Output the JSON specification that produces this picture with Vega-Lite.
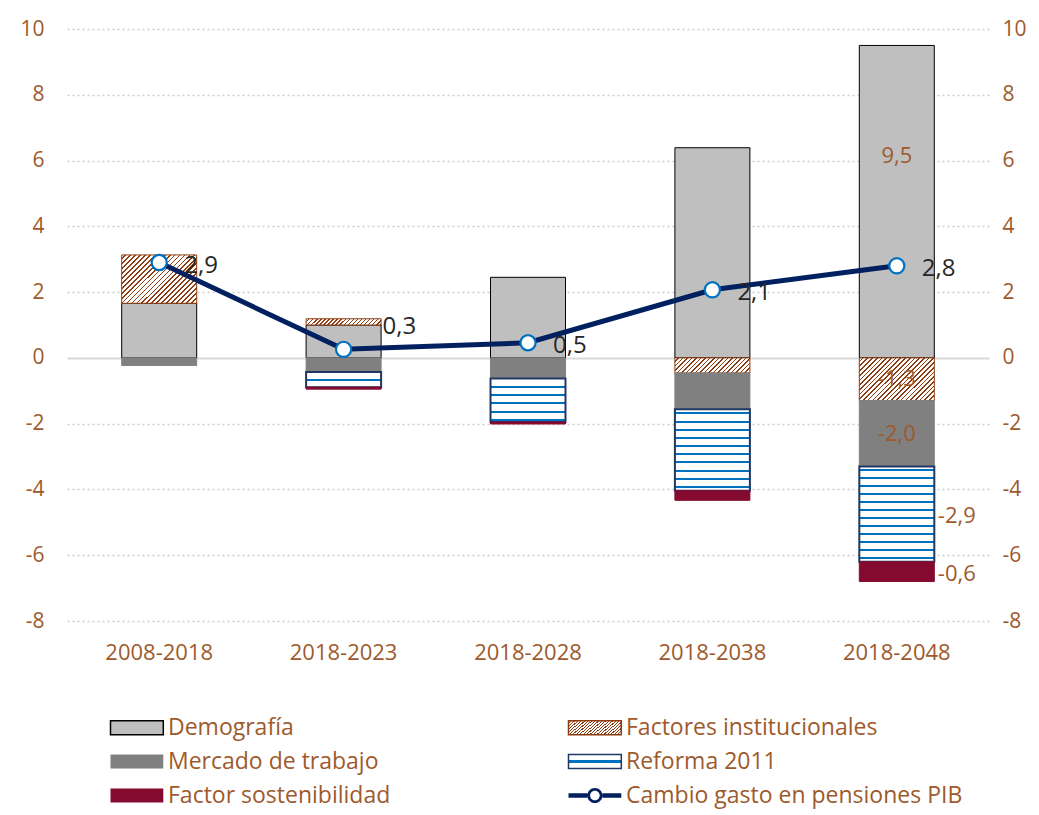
{
  "$schema": "https://vega.github.io/schema/vega-lite/v6.json",
  "autosize": "none",
  "padding": {"left": 67, "top": 29, "right": 50, "bottom": 194},
  "width": 922,
  "height": 592,
  "config": {
    "font": "Open Sans",
    "view": {"stroke": null},
    "locale": {"number": {"decimal": ",", "thousands": ".", "grouping": [3], "currency": ["", " €"], "minus": "-"}}
  },
  "params": [
    {"name": "h25", "value": [
      {"offset":0,"color":"#fff"},{"offset":0.026,"color":"#fff"},{"offset":0.026,"color":"#8e3c10"},{"offset":0.04,"color":"#8e3c10"},
      {"offset":0.04,"color":"#fff"},{"offset":0.066,"color":"#fff"},{"offset":0.066,"color":"#8e3c10"},{"offset":0.08,"color":"#8e3c10"},
      {"offset":0.08,"color":"#fff"},{"offset":0.106,"color":"#fff"},{"offset":0.106,"color":"#8e3c10"},{"offset":0.12,"color":"#8e3c10"},
      {"offset":0.12,"color":"#fff"},{"offset":0.146,"color":"#fff"},{"offset":0.146,"color":"#8e3c10"},{"offset":0.16,"color":"#8e3c10"},
      {"offset":0.16,"color":"#fff"},{"offset":0.186,"color":"#fff"},{"offset":0.186,"color":"#8e3c10"},{"offset":0.2,"color":"#8e3c10"},
      {"offset":0.2,"color":"#fff"},{"offset":0.226,"color":"#fff"},{"offset":0.226,"color":"#8e3c10"},{"offset":0.24,"color":"#8e3c10"},
      {"offset":0.24,"color":"#fff"},{"offset":0.266,"color":"#fff"},{"offset":0.266,"color":"#8e3c10"},{"offset":0.28,"color":"#8e3c10"},
      {"offset":0.28,"color":"#fff"},{"offset":0.306,"color":"#fff"},{"offset":0.306,"color":"#8e3c10"},{"offset":0.32,"color":"#8e3c10"},
      {"offset":0.32,"color":"#fff"},{"offset":0.346,"color":"#fff"},{"offset":0.346,"color":"#8e3c10"},{"offset":0.36,"color":"#8e3c10"},
      {"offset":0.36,"color":"#fff"},{"offset":0.386,"color":"#fff"},{"offset":0.386,"color":"#8e3c10"},{"offset":0.4,"color":"#8e3c10"},
      {"offset":0.4,"color":"#fff"},{"offset":0.426,"color":"#fff"},{"offset":0.426,"color":"#8e3c10"},{"offset":0.44,"color":"#8e3c10"},
      {"offset":0.44,"color":"#fff"},{"offset":0.466,"color":"#fff"},{"offset":0.466,"color":"#8e3c10"},{"offset":0.48,"color":"#8e3c10"},
      {"offset":0.48,"color":"#fff"},{"offset":0.506,"color":"#fff"},{"offset":0.506,"color":"#8e3c10"},{"offset":0.52,"color":"#8e3c10"},
      {"offset":0.52,"color":"#fff"},{"offset":0.546,"color":"#fff"},{"offset":0.546,"color":"#8e3c10"},{"offset":0.56,"color":"#8e3c10"},
      {"offset":0.56,"color":"#fff"},{"offset":0.586,"color":"#fff"},{"offset":0.586,"color":"#8e3c10"},{"offset":0.6,"color":"#8e3c10"},
      {"offset":0.6,"color":"#fff"},{"offset":0.626,"color":"#fff"},{"offset":0.626,"color":"#8e3c10"},{"offset":0.64,"color":"#8e3c10"},
      {"offset":0.64,"color":"#fff"},{"offset":0.666,"color":"#fff"},{"offset":0.666,"color":"#8e3c10"},{"offset":0.68,"color":"#8e3c10"},
      {"offset":0.68,"color":"#fff"},{"offset":0.706,"color":"#fff"},{"offset":0.706,"color":"#8e3c10"},{"offset":0.72,"color":"#8e3c10"},
      {"offset":0.72,"color":"#fff"},{"offset":0.746,"color":"#fff"},{"offset":0.746,"color":"#8e3c10"},{"offset":0.76,"color":"#8e3c10"},
      {"offset":0.76,"color":"#fff"},{"offset":0.786,"color":"#fff"},{"offset":0.786,"color":"#8e3c10"},{"offset":0.8,"color":"#8e3c10"},
      {"offset":0.8,"color":"#fff"},{"offset":0.826,"color":"#fff"},{"offset":0.826,"color":"#8e3c10"},{"offset":0.84,"color":"#8e3c10"},
      {"offset":0.84,"color":"#fff"},{"offset":0.866,"color":"#fff"},{"offset":0.866,"color":"#8e3c10"},{"offset":0.88,"color":"#8e3c10"},
      {"offset":0.88,"color":"#fff"},{"offset":0.906,"color":"#fff"},{"offset":0.906,"color":"#8e3c10"},{"offset":0.92,"color":"#8e3c10"},
      {"offset":0.92,"color":"#fff"},{"offset":0.946,"color":"#fff"},{"offset":0.946,"color":"#8e3c10"},{"offset":0.96,"color":"#8e3c10"},
      {"offset":0.96,"color":"#fff"},{"offset":0.986,"color":"#fff"},{"offset":0.986,"color":"#8e3c10"},{"offset":1,"color":"#8e3c10"}
    ]},
    {"name": "h20", "value": [
      {"offset":0,"color":"#fff"},{"offset":0.032,"color":"#fff"},{"offset":0.032,"color":"#8e3c10"},{"offset":0.05,"color":"#8e3c10"},
      {"offset":0.05,"color":"#fff"},{"offset":0.082,"color":"#fff"},{"offset":0.082,"color":"#8e3c10"},{"offset":0.1,"color":"#8e3c10"},
      {"offset":0.1,"color":"#fff"},{"offset":0.132,"color":"#fff"},{"offset":0.132,"color":"#8e3c10"},{"offset":0.15,"color":"#8e3c10"},
      {"offset":0.15,"color":"#fff"},{"offset":0.182,"color":"#fff"},{"offset":0.182,"color":"#8e3c10"},{"offset":0.2,"color":"#8e3c10"},
      {"offset":0.2,"color":"#fff"},{"offset":0.232,"color":"#fff"},{"offset":0.232,"color":"#8e3c10"},{"offset":0.25,"color":"#8e3c10"},
      {"offset":0.25,"color":"#fff"},{"offset":0.282,"color":"#fff"},{"offset":0.282,"color":"#8e3c10"},{"offset":0.3,"color":"#8e3c10"},
      {"offset":0.3,"color":"#fff"},{"offset":0.332,"color":"#fff"},{"offset":0.332,"color":"#8e3c10"},{"offset":0.35,"color":"#8e3c10"},
      {"offset":0.35,"color":"#fff"},{"offset":0.382,"color":"#fff"},{"offset":0.382,"color":"#8e3c10"},{"offset":0.4,"color":"#8e3c10"},
      {"offset":0.4,"color":"#fff"},{"offset":0.432,"color":"#fff"},{"offset":0.432,"color":"#8e3c10"},{"offset":0.45,"color":"#8e3c10"},
      {"offset":0.45,"color":"#fff"},{"offset":0.482,"color":"#fff"},{"offset":0.482,"color":"#8e3c10"},{"offset":0.5,"color":"#8e3c10"},
      {"offset":0.5,"color":"#fff"},{"offset":0.532,"color":"#fff"},{"offset":0.532,"color":"#8e3c10"},{"offset":0.55,"color":"#8e3c10"},
      {"offset":0.55,"color":"#fff"},{"offset":0.582,"color":"#fff"},{"offset":0.582,"color":"#8e3c10"},{"offset":0.6,"color":"#8e3c10"},
      {"offset":0.6,"color":"#fff"},{"offset":0.632,"color":"#fff"},{"offset":0.632,"color":"#8e3c10"},{"offset":0.65,"color":"#8e3c10"},
      {"offset":0.65,"color":"#fff"},{"offset":0.682,"color":"#fff"},{"offset":0.682,"color":"#8e3c10"},{"offset":0.7,"color":"#8e3c10"},
      {"offset":0.7,"color":"#fff"},{"offset":0.732,"color":"#fff"},{"offset":0.732,"color":"#8e3c10"},{"offset":0.75,"color":"#8e3c10"},
      {"offset":0.75,"color":"#fff"},{"offset":0.782,"color":"#fff"},{"offset":0.782,"color":"#8e3c10"},{"offset":0.8,"color":"#8e3c10"},
      {"offset":0.8,"color":"#fff"},{"offset":0.832,"color":"#fff"},{"offset":0.832,"color":"#8e3c10"},{"offset":0.85,"color":"#8e3c10"},
      {"offset":0.85,"color":"#fff"},{"offset":0.882,"color":"#fff"},{"offset":0.882,"color":"#8e3c10"},{"offset":0.9,"color":"#8e3c10"},
      {"offset":0.9,"color":"#fff"},{"offset":0.932,"color":"#fff"},{"offset":0.932,"color":"#8e3c10"},{"offset":0.95,"color":"#8e3c10"},
      {"offset":0.95,"color":"#fff"},{"offset":0.982,"color":"#fff"},{"offset":0.982,"color":"#8e3c10"},{"offset":1,"color":"#8e3c10"}
    ]}
  ],
  "datasets": {
    "bars": [
      {"period": "2008-2018", "comp": "Demografía", "orden": 1, "value": 1.66},
      {"period": "2008-2018", "comp": "Factores institucionales", "orden": 2, "value": 1.47},
      {"period": "2008-2018", "comp": "Mercado de trabajo", "orden": 3, "value": -0.23},
      {"period": "2018-2023", "comp": "Demografía", "orden": 1, "value": 1.0},
      {"period": "2018-2023", "comp": "Factores institucionales", "orden": 2, "value": 0.19},
      {"period": "2018-2023", "comp": "Mercado de trabajo", "orden": 3, "value": -0.43},
      {"period": "2018-2023", "comp": "Reforma 2011", "orden": 4, "value": -0.46},
      {"period": "2018-2023", "comp": "Factor sostenibilidad", "orden": 5, "value": -0.06},
      {"period": "2018-2028", "comp": "Demografía", "orden": 1, "value": 2.45},
      {"period": "2018-2028", "comp": "Mercado de trabajo", "orden": 3, "value": -0.63},
      {"period": "2018-2028", "comp": "Reforma 2011", "orden": 4, "value": -1.32},
      {"period": "2018-2028", "comp": "Factor sostenibilidad", "orden": 5, "value": -0.06},
      {"period": "2018-2038", "comp": "Demografía", "orden": 1, "value": 6.39},
      {"period": "2018-2038", "comp": "Factores institucionales", "orden": 2, "value": -0.46},
      {"period": "2018-2038", "comp": "Mercado de trabajo", "orden": 3, "value": -1.1},
      {"period": "2018-2038", "comp": "Reforma 2011", "orden": 4, "value": -2.48},
      {"period": "2018-2038", "comp": "Factor sostenibilidad", "orden": 5, "value": -0.29},
      {"period": "2018-2048", "comp": "Demografía", "orden": 1, "value": 9.5},
      {"period": "2018-2048", "comp": "Factores institucionales", "orden": 2, "value": -1.3},
      {"period": "2018-2048", "comp": "Mercado de trabajo", "orden": 3, "value": -2.0},
      {"period": "2018-2048", "comp": "Reforma 2011", "orden": 4, "value": -2.9},
      {"period": "2018-2048", "comp": "Factor sostenibilidad", "orden": 5, "value": -0.6}
    ],
    "line": [
      {"period": "2008-2018", "value": 2.9},
      {"period": "2018-2023", "value": 0.26},
      {"period": "2018-2028", "value": 0.46},
      {"period": "2018-2038", "value": 2.07},
      {"period": "2018-2048", "value": 2.8}
    ]
  },
  "layer": [
    {
      "data": {"name": "bars"},
      "transform": [{"stack": "value", "groupby": ["period"], "sort": [{"field": "orden", "order": "ascending"}], "as": ["v0", "v1"]}],
      "mark": {"type": "bar", "width": 75},
      "encoding": {
        "x": {"field": "period", "type": "nominal", "sort": null,
          "scale": {"domain": ["2008-2018", "2018-2023", "2018-2028", "2018-2038", "2018-2048"]},
          "axis": {"title": null, "domain": false, "ticks": false, "grid": false, "labelAngle": 0, "labelPadding": 21, "labelFontSize": 22, "labelColor": "#9e5a2c"}},
        "y": {"field": "v0", "type": "quantitative",
          "scale": {"domain": [-8, 10], "nice": false, "zero": false},
          "axis": {"orient": "left", "title": null, "values": [-8, -6, -4, -2, 0, 2, 4, 6, 8, 10], "format": "d",
            "domain": false, "ticks": false, "labelPadding": 23, "labelFontSize": 21, "labelColor": "#9e5a2c",
            "grid": true,
            "gridColor": {"condition": {"test": "datum.value === 0", "value": "#d9d9d9"}, "value": "#cccccc"},
            "gridDash": {"condition": {"test": "datum.value === 0", "value": []}, "value": [2, 3]},
            "gridWidth": {"condition": {"test": "datum.value === 0", "value": 2}, "value": 1.5}}},
        "y2": {"field": "v1"},
        "fill": {
          "field": "comp", "type": "nominal",
          "scale": {
            "domain": ["Demografía", "Mercado de trabajo", "Factor sostenibilidad", "Factores institucionales", "Reforma 2011", "Cambio gasto en pensiones PIB"],
            "range": ["#bfbfbf", "#808080", "#840b2f",
              {"expr": "{gradient:'linear',x1:0,y1:0,x2:1.195,y2:0.368,stops:h20}"},
              {"expr": "{gradient:'linear',x1:0,y1:0,x2:0,y2:1,stops:[{offset:0,color:'#fff'},{offset:0.38,color:'#fff'},{offset:0.38,color:'#0070c0'},{offset:0.62,color:'#0070c0'},{offset:0.62,color:'#fff'},{offset:1,color:'#fff'}]}"},
              "#002060"]
          },
          "legend": {
            "title": null, "orient": "none", "legendX": 40, "legendY": 687, "columns": 2,
            "columnPadding": 174, "rowPadding": 10, "labelFontSize": 23, "labelColor": "#9e5a2c",
            "labelOffset": 38, "labelLimit": 600, "symbolSize": 256, "symbolType": "M-1,-0.875H5.6V0.875H-1Z",
            "encode": {"symbols": {"update": {
              "stroke": {"signal": "datum.value==='Demografía' ? '#000000' : datum.value==='Factores institucionales' ? '#8e3c10' : datum.value==='Reforma 2011' ? '#1f3864' : 'transparent'"},
              "strokeWidth": {"value": 1.5},
              "opacity": {"value": 1},
              "shape": {"signal": "datum.value==='Cambio gasto en pensiones PIB' ? 'M-1,-0.28H1.35V0.28H-1Z M3.25,-0.28H5.6V0.28H3.25Z M3.25,0A0.95,0.95 0 1,1 1.35,0A0.95,0.95 0 1,1 3.25,0Z M2.9,0A0.6,0.6 0 1,0 1.7,0A0.6,0.6 0 1,0 2.9,0Z' : 'M-1,-0.875H5.6V0.875H-1Z'"}
            }}}
          },
          "condition": [
            {"test": "datum.comp==='Factores institucionales' && datum.period==='2008-2018'", "value": {"expr": "{gradient:'linear',x1:0,y1:0,x2:1.162,y2:0.75,stops:h25}"}},
            {"test": "datum.comp==='Factores institucionales' && datum.period==='2018-2048'", "value": {"expr": "{gradient:'linear',x1:0,y1:0,x2:1.185,y2:0.677,stops:h25}"}},
            {"test": "datum.comp==='Factores institucionales' && datum.period==='2018-2038'", "value": {"expr": "{gradient:'linear',x1:0,y1:0,x2:1.154,y2:0.232,stops:h20}"}},
            {"test": "datum.comp==='Factores institucionales' && datum.period==='2018-2023'", "value": {"expr": "{gradient:'linear',x1:0,y1:0,x2:1.076,y2:0.0905,stops:h20}"}},
            {"test": "datum.comp==='Reforma 2011' && datum.period==='2018-2023'", "value": {"gradient": "linear", "x1": 0, "y1": 0, "x2": 0, "y2": 1, "stops": [
              {"offset":0,"color":"#fff"},{"offset":0.44,"color":"#fff"},{"offset":0.44,"color":"#0070c0"},{"offset":0.57,"color":"#0070c0"},{"offset":0.57,"color":"#fff"},{"offset":1,"color":"#fff"}]}},
            {"test": "datum.comp==='Reforma 2011' && datum.period==='2018-2028'", "value": {"gradient": "linear", "x1": 0, "y1": 0, "x2": 0, "y2": 1, "stops": [
              {"offset":0,"color":"#fff"},{"offset":0.17,"color":"#fff"},{"offset":0.17,"color":"#0070c0"},{"offset":0.216,"color":"#0070c0"},
              {"offset":0.216,"color":"#fff"},{"offset":0.36,"color":"#fff"},{"offset":0.36,"color":"#0070c0"},{"offset":0.406,"color":"#0070c0"},
              {"offset":0.406,"color":"#fff"},{"offset":0.55,"color":"#fff"},{"offset":0.55,"color":"#0070c0"},{"offset":0.596,"color":"#0070c0"},
              {"offset":0.596,"color":"#fff"},{"offset":0.74,"color":"#fff"},{"offset":0.74,"color":"#0070c0"},{"offset":0.786,"color":"#0070c0"},
              {"offset":0.786,"color":"#fff"},{"offset":0.93,"color":"#fff"},{"offset":0.93,"color":"#0070c0"},{"offset":0.976,"color":"#0070c0"},
              {"offset":0.976,"color":"#fff"},{"offset":1,"color":"#fff"}]}},
            {"test": "datum.comp==='Reforma 2011' && datum.period==='2018-2038'", "value": {"gradient": "linear", "x1": 0, "y1": 0, "x2": 0, "y2": 1, "stops": [
              {"offset":0,"color":"#fff"},{"offset":0.04,"color":"#fff"},{"offset":0.04,"color":"#0070c0"},{"offset":0.065,"color":"#0070c0"},
              {"offset":0.065,"color":"#fff"},{"offset":0.14,"color":"#fff"},{"offset":0.14,"color":"#0070c0"},{"offset":0.165,"color":"#0070c0"},
              {"offset":0.165,"color":"#fff"},{"offset":0.24,"color":"#fff"},{"offset":0.24,"color":"#0070c0"},{"offset":0.265,"color":"#0070c0"},
              {"offset":0.265,"color":"#fff"},{"offset":0.34,"color":"#fff"},{"offset":0.34,"color":"#0070c0"},{"offset":0.365,"color":"#0070c0"},
              {"offset":0.365,"color":"#fff"},{"offset":0.44,"color":"#fff"},{"offset":0.44,"color":"#0070c0"},{"offset":0.465,"color":"#0070c0"},
              {"offset":0.465,"color":"#fff"},{"offset":0.54,"color":"#fff"},{"offset":0.54,"color":"#0070c0"},{"offset":0.565,"color":"#0070c0"},
              {"offset":0.565,"color":"#fff"},{"offset":0.64,"color":"#fff"},{"offset":0.64,"color":"#0070c0"},{"offset":0.665,"color":"#0070c0"},
              {"offset":0.665,"color":"#fff"},{"offset":0.74,"color":"#fff"},{"offset":0.74,"color":"#0070c0"},{"offset":0.765,"color":"#0070c0"},
              {"offset":0.765,"color":"#fff"},{"offset":0.84,"color":"#fff"},{"offset":0.84,"color":"#0070c0"},{"offset":0.865,"color":"#0070c0"},
              {"offset":0.865,"color":"#fff"},{"offset":0.94,"color":"#fff"},{"offset":0.94,"color":"#0070c0"},{"offset":0.965,"color":"#0070c0"},
              {"offset":0.965,"color":"#fff"},{"offset":1,"color":"#fff"}]}},
            {"test": "datum.comp==='Reforma 2011' && datum.period==='2018-2048'", "value": {"gradient": "linear", "x1": 0, "y1": 0, "x2": 0, "y2": 1, "stops": [
              {"offset":0,"color":"#fff"},{"offset":0.03,"color":"#fff"},{"offset":0.03,"color":"#0070c0"},{"offset":0.052,"color":"#0070c0"},
              {"offset":0.052,"color":"#fff"},{"offset":0.113,"color":"#fff"},{"offset":0.113,"color":"#0070c0"},{"offset":0.135,"color":"#0070c0"},
              {"offset":0.135,"color":"#fff"},{"offset":0.197,"color":"#fff"},{"offset":0.197,"color":"#0070c0"},{"offset":0.219,"color":"#0070c0"},
              {"offset":0.219,"color":"#fff"},{"offset":0.28,"color":"#fff"},{"offset":0.28,"color":"#0070c0"},{"offset":0.302,"color":"#0070c0"},
              {"offset":0.302,"color":"#fff"},{"offset":0.363,"color":"#fff"},{"offset":0.363,"color":"#0070c0"},{"offset":0.385,"color":"#0070c0"},
              {"offset":0.385,"color":"#fff"},{"offset":0.447,"color":"#fff"},{"offset":0.447,"color":"#0070c0"},{"offset":0.469,"color":"#0070c0"},
              {"offset":0.469,"color":"#fff"},{"offset":0.53,"color":"#fff"},{"offset":0.53,"color":"#0070c0"},{"offset":0.552,"color":"#0070c0"},
              {"offset":0.552,"color":"#fff"},{"offset":0.613,"color":"#fff"},{"offset":0.613,"color":"#0070c0"},{"offset":0.635,"color":"#0070c0"},
              {"offset":0.635,"color":"#fff"},{"offset":0.697,"color":"#fff"},{"offset":0.697,"color":"#0070c0"},{"offset":0.719,"color":"#0070c0"},
              {"offset":0.719,"color":"#fff"},{"offset":0.78,"color":"#fff"},{"offset":0.78,"color":"#0070c0"},{"offset":0.802,"color":"#0070c0"},
              {"offset":0.802,"color":"#fff"},{"offset":0.863,"color":"#fff"},{"offset":0.863,"color":"#0070c0"},{"offset":0.885,"color":"#0070c0"},
              {"offset":0.885,"color":"#fff"},{"offset":0.947,"color":"#fff"},{"offset":0.947,"color":"#0070c0"},{"offset":0.969,"color":"#0070c0"},
              {"offset":0.969,"color":"#fff"},{"offset":1,"color":"#fff"}]}}
          ]
        },
        "stroke": {"field": "comp", "type": "nominal", "legend": null,
          "scale": {"domain": ["Demografía", "Factores institucionales", "Mercado de trabajo", "Reforma 2011", "Factor sostenibilidad"],
            "range": ["#000000", "#8e3c10", "#808080", "#1f3864", "#840b2f"]}},
        "strokeWidth": {"condition": {"test": "datum.comp==='Reforma 2011'", "value": 2}, "value": 1}
      }
    },
    {
      "data": {"name": "line"},
      "mark": {"type": "line", "color": "#002060", "strokeWidth": 5},
      "encoding": {
        "x": {"field": "period", "type": "nominal", "sort": null, "scale": {"domain": ["2008-2018", "2018-2023", "2018-2028", "2018-2038", "2018-2048"]},
          "axis": {"title": null, "domain": false, "ticks": false, "grid": false, "labelAngle": 0, "labelPadding": 21, "labelFontSize": 22, "labelColor": "#9e5a2c"}},
        "y": {"field": "value", "type": "quantitative", "scale": {"domain": [-8, 10], "nice": false, "zero": false},
          "axis": {"orient": "right", "title": null, "values": [-8, -6, -4, -2, 0, 2, 4, 6, 8, 10], "format": "d",
            "domain": false, "ticks": false, "grid": false, "labelPadding": 13, "labelFontSize": 21, "labelColor": "#9e5a2c"}}
      }
    },
    {
      "data": {"name": "line"},
      "mark": {"type": "point", "filled": true, "fill": "#ffffff", "stroke": "#0070c0", "strokeWidth": 2.2, "size": 230, "opacity": 1},
      "encoding": {
        "x": {"field": "period", "type": "nominal", "sort": null, "scale": {"domain": ["2008-2018", "2018-2023", "2018-2028", "2018-2038", "2018-2048"]},
          "axis": {"title": null, "domain": false, "ticks": false, "grid": false, "labelAngle": 0, "labelPadding": 21, "labelFontSize": 22, "labelColor": "#9e5a2c"}},
        "y": {"field": "value", "type": "quantitative", "scale": {"domain": [-8, 10], "nice": false, "zero": false}, "axis": null}
      }
    },
    {
      "data": {"name": "line"},
      "transform": [{"filter": "datum.period !== '2018-2023'"}],
      "mark": {"type": "text", "align": "left", "baseline": "middle", "dx": 25, "dy": 3, "fontSize": 24, "color": "#262626"},
      "encoding": {
        "x": {"field": "period", "type": "nominal", "sort": null, "scale": {"domain": ["2008-2018", "2018-2023", "2018-2028", "2018-2038", "2018-2048"]},
          "axis": {"title": null, "domain": false, "ticks": false, "grid": false, "labelAngle": 0, "labelPadding": 21, "labelFontSize": 22, "labelColor": "#9e5a2c"}},
        "y": {"field": "value", "type": "quantitative", "scale": {"domain": [-8, 10], "nice": false, "zero": false}, "axis": null},
        "text": {"field": "value", "type": "quantitative", "format": ".1f"}
      }
    },
    {
      "data": {"name": "line"},
      "transform": [{"filter": "datum.period === '2018-2023'"}],
      "mark": {"type": "text", "align": "left", "baseline": "middle", "dx": 39, "dy": -22, "fontSize": 24, "color": "#262626"},
      "encoding": {
        "x": {"field": "period", "type": "nominal", "sort": null, "scale": {"domain": ["2008-2018", "2018-2023", "2018-2028", "2018-2038", "2018-2048"]},
          "axis": {"title": null, "domain": false, "ticks": false, "grid": false, "labelAngle": 0, "labelPadding": 21, "labelFontSize": 22, "labelColor": "#9e5a2c"}},
        "y": {"field": "value", "type": "quantitative", "scale": {"domain": [-8, 10], "nice": false, "zero": false}, "axis": null},
        "text": {"field": "value", "type": "quantitative", "format": ".1f"}
      }
    },
    {
      "data": {"name": "bars"},
      "transform": [
        {"stack": "value", "groupby": ["period"], "sort": [{"field": "orden", "order": "ascending"}], "as": ["v0", "v1"]},
        {"calculate": "(datum.v0 + datum.v1) / 2", "as": "mid"},
        {"filter": "datum.period === '2018-2048' && (datum.comp === 'Factores institucionales' || datum.comp === 'Mercado de trabajo')"}
      ],
      "mark": {"type": "text", "align": "center", "baseline": "middle", "fontSize": 22, "color": "#9e5a2c"},
      "encoding": {
        "x": {"field": "period", "type": "nominal", "sort": null, "scale": {"domain": ["2008-2018", "2018-2023", "2018-2028", "2018-2038", "2018-2048"]},
          "axis": {"title": null, "domain": false, "ticks": false, "grid": false, "labelAngle": 0, "labelPadding": 21, "labelFontSize": 22, "labelColor": "#9e5a2c"}},
        "y": {"field": "mid", "type": "quantitative", "scale": {"domain": [-8, 10], "nice": false, "zero": false}, "axis": null},
        "text": {"field": "value", "type": "quantitative", "format": ".1f"}
      }
    },
    {
      "data": {"name": "bars"},
      "transform": [
        {"stack": "value", "groupby": ["period"], "sort": [{"field": "orden", "order": "ascending"}], "as": ["v0", "v1"]},
        {"calculate": "(datum.v0 + datum.v1) / 2", "as": "mid"},
        {"filter": "datum.period === '2018-2048' && (datum.comp === 'Reforma 2011' || datum.comp === 'Factor sostenibilidad')"}
      ],
      "mark": {"type": "text", "align": "left", "baseline": "middle", "dx": 41, "dy": 2, "fontSize": 22, "color": "#9e5a2c"},
      "encoding": {
        "x": {"field": "period", "type": "nominal", "sort": null, "scale": {"domain": ["2008-2018", "2018-2023", "2018-2028", "2018-2038", "2018-2048"]},
          "axis": {"title": null, "domain": false, "ticks": false, "grid": false, "labelAngle": 0, "labelPadding": 21, "labelFontSize": 22, "labelColor": "#9e5a2c"}},
        "y": {"field": "mid", "type": "quantitative", "scale": {"domain": [-8, 10], "nice": false, "zero": false}, "axis": null},
        "text": {"field": "value", "type": "quantitative", "format": ".1f"}
      }
    },
    {
      "data": {"name": "bars"},
      "transform": [
        {"filter": "datum.period === '2018-2048' && datum.comp === 'Demografía'"}
      ],
      "mark": {"type": "text", "align": "center", "baseline": "middle", "dy": 111, "fontSize": 22, "color": "#9e5a2c"},
      "encoding": {
        "x": {"field": "period", "type": "nominal", "sort": null, "scale": {"domain": ["2008-2018", "2018-2023", "2018-2028", "2018-2038", "2018-2048"]},
          "axis": {"title": null, "domain": false, "ticks": false, "grid": false, "labelAngle": 0, "labelPadding": 21, "labelFontSize": 22, "labelColor": "#9e5a2c"}},
        "y": {"field": "value", "type": "quantitative", "scale": {"domain": [-8, 10], "nice": false, "zero": false}, "axis": null},
        "text": {"field": "value", "type": "quantitative", "format": ".1f"}
      }
    }
  ],
  "resolve": {"scale": {"y": "independent"}}
}
